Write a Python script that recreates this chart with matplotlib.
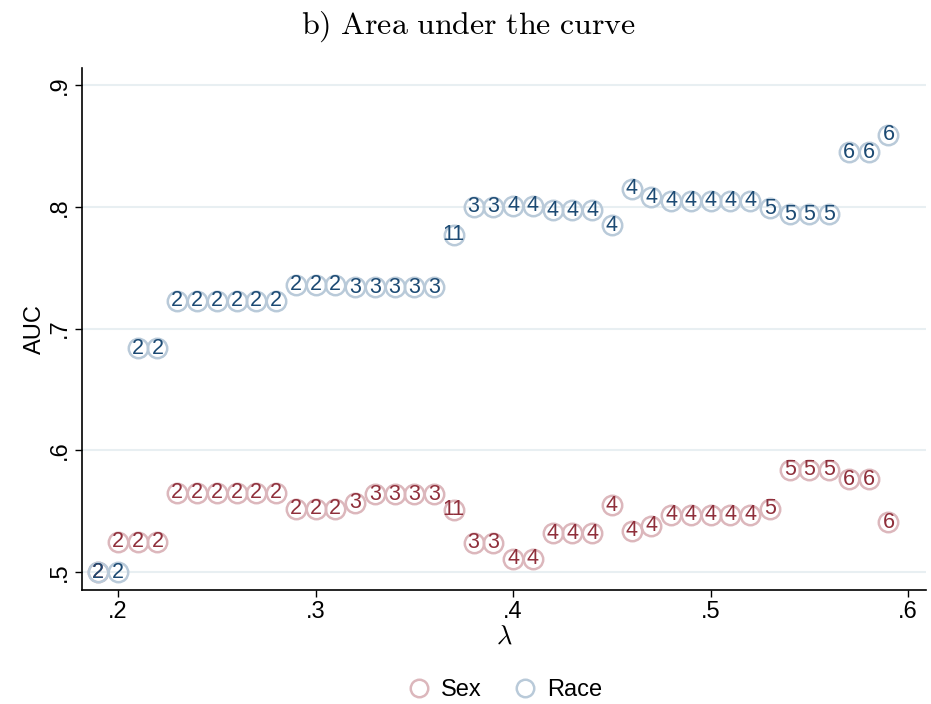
# AUC by lambda for the sex and race models
# hollow circle markers, cluster count written inside each marker

import matplotlib
matplotlib.use('Agg')
import matplotlib.pyplot as plt
import numpy as np

#%% data

lam = [0.19, 0.20, 0.21, 0.22, 0.23, 0.24, 0.25, 0.26, 0.27, 0.28,
       0.29, 0.30, 0.31, 0.32, 0.33, 0.34, 0.35, 0.36, 0.37, 0.38,
       0.39, 0.40, 0.41, 0.42, 0.43, 0.44, 0.45, 0.46, 0.47, 0.48,
       0.49, 0.50, 0.51, 0.52, 0.53, 0.54, 0.55, 0.56, 0.57, 0.58, 0.59]

auc_sex = [0.500, 0.525, 0.525, 0.525, 0.565, 0.565, 0.565, 0.565, 0.565, 0.565,
           0.552, 0.552, 0.552, 0.557, 0.564, 0.564, 0.564, 0.564, 0.551, 0.524,
           0.524, 0.511, 0.511, 0.532, 0.532, 0.532, 0.555, 0.534, 0.538, 0.547,
           0.547, 0.547, 0.547, 0.547, 0.552, 0.584, 0.584, 0.584, 0.576, 0.576, 0.541]

auc_race = [0.500, 0.500, 0.684, 0.684, 0.723, 0.723, 0.723, 0.723, 0.723, 0.723,
            0.736, 0.736, 0.736, 0.734, 0.734, 0.734, 0.734, 0.734, 0.777, 0.800,
            0.800, 0.801, 0.801, 0.797, 0.797, 0.797, 0.785, 0.815, 0.808, 0.805,
            0.805, 0.805, 0.805, 0.805, 0.799, 0.794, 0.794, 0.794, 0.845, 0.845, 0.859]

nclust = [2, 2, 2, 2, 2, 2, 2, 2, 2, 2,
          2, 2, 2, 3, 3, 3, 3, 3, 11, 3,
          3, 4, 4, 4, 4, 4, 4, 4, 4, 4,
          4, 4, 4, 4, 5, 5, 5, 5, 6, 6, 6]

yticks = [0.5, 0.6, 0.7, 0.8, 0.9]
xticks = [0.2, 0.3, 0.4, 0.5, 0.6]

#%% styles

plt.rcParams['font.family'] = ['Liberation Sans', 'DejaVu Sans']
plt.rcParams['mathtext.fontset'] = 'cm'

series = [('Sex', auc_sex, '#dcb7bc', '#8f2f3b'),
          ('Race', auc_race, '#b9cad9', '#1c4a73')]

#%% make plot

fig = plt.figure(figsize=(9.31, 7.04), dpi=100)
ax = fig.add_axes([0.0881, 0.1619, 0.9065, 0.7415])

for name, auc, mcol, tcol in series:
    ax.plot(lam, auc, linestyle='none', marker='o', markersize=14,
            markerfacecolor='none', markeredgecolor=mcol, markeredgewidth=1.8,
            label=name, zorder=3)
    for xx, yy, nn in zip(lam, auc, nclust):
        ax.text(xx, yy, str(nn), ha='center', va='center', fontsize=15.5,
                color=tcol, zorder=4)

ax.set_xlim(0.1818, 0.609)
ax.set_ylim(0.4852, 0.914)
ax.set_xticks(xticks)
ax.set_xticklabels(['.2', '.3', '.4', '.5', '.6'])
ax.set_yticks(yticks)
ax.set_yticklabels(['.5', '.6', '.7', '.8', '.9'], rotation=90, va='center')
ax.tick_params(direction='out', length=5, width=1, labelsize=17, pad=3)

ax.grid(axis='y', color='#e8eff2', linewidth=1.5, zorder=0)
ax.set_axisbelow(True)
for side in ['top', 'right']:
    ax.spines[side].set_visible(False)
for side in ['left', 'bottom']:
    ax.spines[side].set_linewidth(1.2)

ax.set_ylabel('AUC', fontsize=17, labelpad=2)
ax.set_xlabel(r'$\lambda$', fontsize=19, labelpad=1)

fig.text(0.503, 0.962, r'$\mathrm{b)\ Area\ under\ the\ curve}$', ha='center',
         va='center', fontsize=23)

fig.legend(loc='center', bbox_to_anchor=(0.542, 0.02), ncol=2, frameon=False,
           fontsize=17, handlelength=1.0, handletextpad=0.45, columnspacing=1.3,
           markerscale=0.9)

fig.savefig('out.png', dpi=100)
plt.close()
